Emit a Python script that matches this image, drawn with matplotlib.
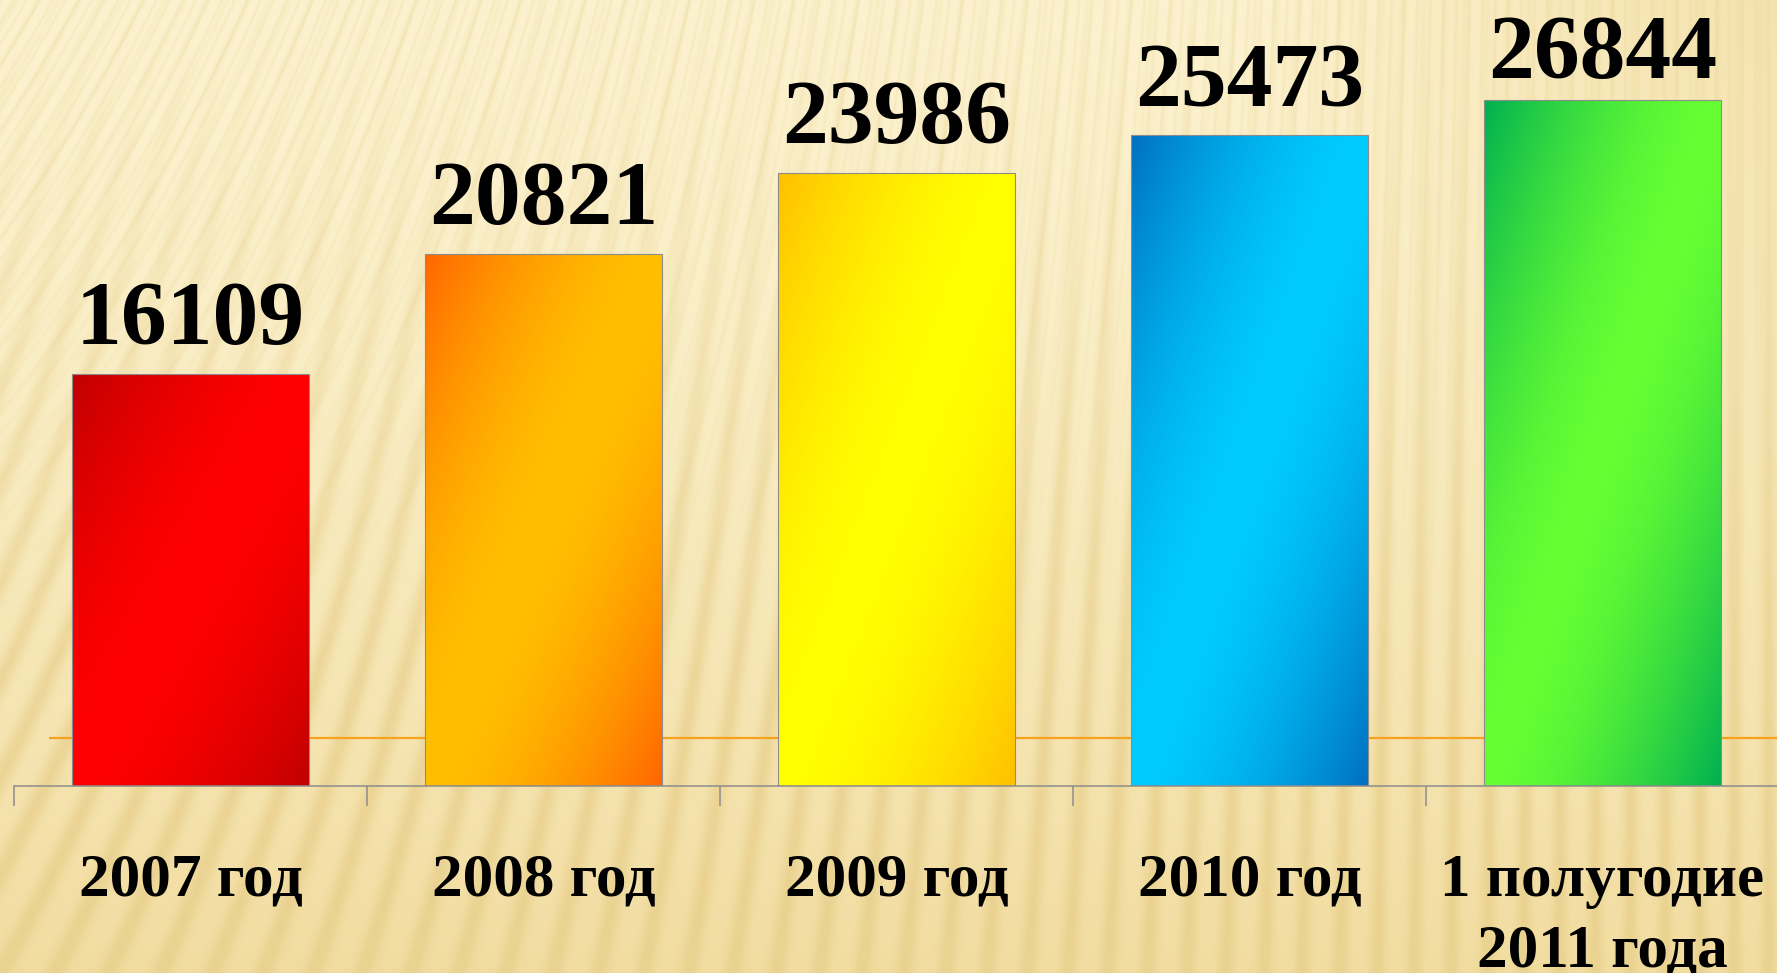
import numpy as np
import matplotlib
matplotlib.use("Agg")
import matplotlib.pyplot as plt
from matplotlib.colors import to_rgb

# data
categories = ["2007 год", "2008 год", "2009 год", "2010 год", "1 полугодие\n2011 года"]
values = [16109, 20821, 23986, 25473, 26844]
dark_colors = ["#c00000", "#ff6600", "#ffc000", "#0070c0", "#00b050"]
light_colors = ["#ff0000", "#ffc000", "#ffff00", "#00ccff", "#66ff33"]
ref_level = 1880

W, H = 1777, 973
fig = plt.figure(figsize=(W / 100, H / 100), dpi=100)

# striped cream background
yy, xx = np.mgrid[0:H, 0:W].astype(float)
xn, yn = xx / W, yy / H
k1 = 0.6 * (1 - xn) ** 2
fine = (0.5 + 0.5 * np.cos(2 * np.pi * (xx + k1 * yy) / 13.0)) ** 6
fine2 = (0.5 + 0.5 * np.cos(2 * np.pi * (xx + k1 * yy) / 21.0 + 1.3)) ** 4
k2 = 0.35 * (1 - xn) ** 2
coarse = (0.5 + 0.5 * np.cos(2 * np.pi * (xx + k2 * yy) / 34.0)) ** 2
w_fine = np.clip(1 - yn * 1.4, 0, 1)
stripes = w_fine * 0.6 * (0.6 * fine + 0.4 * fine2) + (1 - w_fine) * coarse
light = np.array(to_rgb("#fcf2cf"))
tan = np.array(to_rgb("#f0d998"))
t = np.clip(0.85 * yn ** 1.6 + 0.6 * np.clip((xn - 0.7) / 0.3, 0, 1) * (1 - yn) ** 2, 0, 1)
base = light * (1 - t[..., None]) + tan * t[..., None]
dark = np.array(to_rgb("#e2c77e"))
a = (0.5 * stripes)[..., None]
bg = base * (1 - a) + dark * a

bg_ax = fig.add_axes([0, 0, 1, 1], zorder=0)
bg_ax.imshow(bg, aspect="auto", extent=(0, 1, 0, 1))
bg_ax.axis("off")

ax_h_px = 786
ymax = 30760
ax = fig.add_axes([14 / W, 1 - ax_h_px / H, 1765 / W, ax_h_px / H], zorder=1)
ax.patch.set_alpha(0)

x = np.arange(len(values))
ax.hlines(ref_level, -0.4, 4.5, color="#f5a21e", lw=1.6, zorder=1)

bars = ax.bar(x, values, width=0.67, facecolor="none", edgecolor="#8c8c8c", lw=0.8, zorder=3)

# diagonal gradient fill inside every bar: dark corners, bright middle
n = 200
u = np.linspace(0, 1, n)[None, :]
v = np.linspace(0, 1, n)[:, None]
tt = (u + v) / 2
mix = 1 - np.abs(2 * tt - 1) ** 1.6
for bar, c0, c1 in zip(bars, dark_colors, light_colors):
    c0, c1 = np.array(to_rgb(c0)), np.array(to_rgb(c1))
    img = c0 * (1 - mix[..., None]) + c1 * mix[..., None]
    x0, w, h = bar.get_x(), bar.get_width(), bar.get_height()
    im = ax.imshow(img, extent=(x0, x0 + w, 0, h), aspect="auto", origin="upper", zorder=2)
    im.set_clip_path(bar)

ax.set_xlim(-0.5, 4.5)
ax.set_ylim(0, ymax)

# value labels sit ~30px above the bar, closer when near the top edge
for xi, val in zip(x, values):
    room_px = (1 - val / ymax) * ax_h_px
    gap_px = min(30, room_px - 63 - 15)
    ax.annotate(str(val), (xi, val), xytext=(0, gap_px * 0.72), textcoords="offset points",
                ha="center", va="baseline", fontsize=66, fontweight="bold",
                family="Liberation Serif")

ax.set_xticks(x)
ax.set_xticklabels(categories, fontsize=44, fontweight="bold", family="Liberation Serif")
for lbl in ax.get_xticklabels():
    lbl.set_linespacing(1.35)
ax.tick_params(axis="x", which="major", length=0, pad=48)
ax.set_xticks(np.arange(-0.5, 4.5, 1), minor=True)
ax.tick_params(axis="x", which="minor", length=14.5, width=1.1, color="#8c8c8c", direction="out")
ax.set_yticks([])
for side in ["left", "top", "right"]:
    ax.spines[side].set_visible(False)
ax.spines["bottom"].set_color("#8c8c8c")
ax.spines["bottom"].set_linewidth(1.1)

fig.savefig("out.png", dpi=100)
